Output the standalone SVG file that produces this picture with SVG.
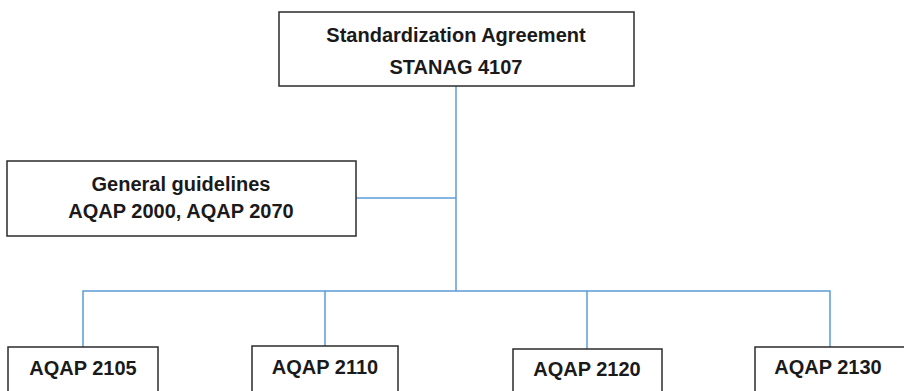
<svg xmlns="http://www.w3.org/2000/svg" width="904" height="391" viewBox="0 0 904 391">
<style>
.box{fill:#fff;stroke:#2b2b2b;stroke-width:1.5}
.t{font-family:"Liberation Sans",Arial,sans-serif;font-weight:bold;font-size:20px;fill:#1a1a1a;text-anchor:middle}
.c{fill:none;stroke:#5b9bd5;stroke-width:1.5}
</style>
<rect width="904" height="391" fill="#fff"/>
<g id="connectors">
<path class="c" d="M456,86V291"/>
<path class="c" d="M356,198H456"/>
<path class="c" d="M83,347V291H830V347"/>
<path class="c" d="M325,291V346"/>
<path class="c" d="M587,291V349"/>
</g>
<g id="stanag">
<rect class="box" x="279" y="12" width="355" height="74"/>
<text class="t" x="456" y="42">Standardization Agreement</text>
<text class="t" x="456" y="74">STANAG 4107</text>
</g>
<g id="general">
<rect class="box" x="7" y="161" width="349" height="75"/>
<text class="t" x="181" y="191">General guidelines</text>
<text class="t" x="181" y="218">AQAP 2000, AQAP 2070</text>
</g>
<g id="aqap2105">
<rect class="box" x="8" y="347" width="150" height="60"/>
<text class="t" x="83" y="375">AQAP 2105</text>
</g>
<g id="aqap2110">
<rect class="box" x="252" y="346" width="146" height="60"/>
<text class="t" x="325" y="374">AQAP 2110</text>
</g>
<g id="aqap2120">
<rect class="box" x="513" y="349" width="149" height="60"/>
<text class="t" x="587" y="376">AQAP 2120</text>
</g>
<g id="aqap2130">
<rect class="box" x="755" y="347" width="160" height="60"/>
<text class="t" x="828" y="374">AQAP 2130</text>
</g>
</svg>
